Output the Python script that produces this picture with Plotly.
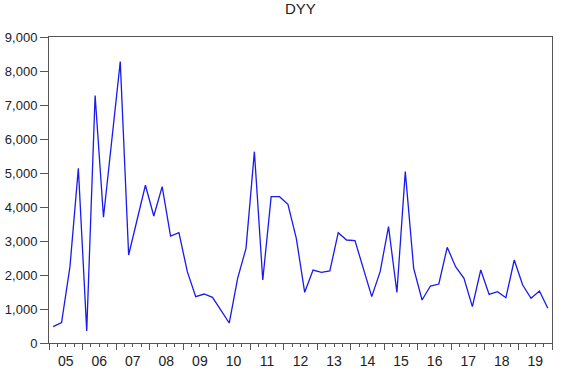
import plotly.graph_objects as go

years = ["05", "06", "07", "08", "09", "10", "11", "12", "13", "14", "15", "16", "17", "18", "19"]
start_year = 2005
values = [480, 600, 2245, 5137, 353, 7280, 3700, 6000, 8275, 2588,
          3618, 4640, 3735, 4598, 3147, 3245, 2098, 1363, 1441, 1343,
          970, 588, 1902, 2784, 5627, 1853, 4304, 4304, 4078, 3078,
          1490, 2147, 2078, 2118, 3245, 3029, 3010, 2147, 1363, 2098,
          3422, 1490, 5039, 2196, 1265, 1676, 1735, 2814, 2245, 1902,
          1069, 2147, 1431, 1510, 1333, 2441, 1706, 1314, 1529, 1020]

x = [start_year + (i + 0.5) / 4 for i in range(len(values))]
x_end = start_year + len(years)
label_pos = [start_year + k + 0.5 for k in range(len(years))]

fig = go.Figure()
fig.add_trace(go.Scatter(x=x, y=values, mode="lines",
                         line=dict(color="#1a1aee", width=1.3),
                         showlegend=False, hoverinfo="skip"))
# invisible trace for label axis
fig.add_trace(go.Scatter(x=[start_year, x_end], y=[0, 0], mode="lines",
                         line=dict(width=0), xaxis="x2", showlegend=False,
                         hoverinfo="skip"))

axis_color = "#555555"
font = "Liberation Sans, Arial, sans-serif"

fig.update_layout(
    width=561, height=379,
    margin=dict(l=49, r=9, t=37, b=36),
    paper_bgcolor="white", plot_bgcolor="white",
    font=dict(family=font, color="#222222"),
    xaxis=dict(range=[start_year, x_end], showgrid=False, zeroline=False,
               showline=True, linecolor=axis_color, linewidth=1, mirror=True,
               tickmode="linear", tick0=start_year, dtick=1,
               ticks="outside", ticklen=6, tickcolor=axis_color,
               showticklabels=False, automargin=False,
               minor=dict(dtick=0.25, tick0=start_year, ticks="outside",
                          ticklen=3, tickcolor=axis_color, showgrid=False)),
    xaxis2=dict(range=[start_year, x_end], overlaying="x", anchor="y",
                side="bottom", showgrid=False, zeroline=False, showline=False,
                tickmode="array", tickvals=label_pos, ticktext=years,
                ticks="", ticklabelstandoff=8, automargin=False,
                tickfont=dict(size=14, family=font, color="#222222")),
    yaxis=dict(range=[0, 9000], showgrid=False, zeroline=False,
               showline=True, linecolor=axis_color, linewidth=1, mirror=True,
               tickmode="linear", tick0=0, dtick=1000, tickformat=",d",
               ticks="outside", ticklen=8, tickcolor=axis_color,
               automargin=False,
               tickfont=dict(size=13, family=font, color="#222222")),
    annotations=[dict(text="DYY", xref="paper", yref="paper", x=0.5, y=1.06,
                      xanchor="center", yanchor="bottom", showarrow=False,
                      font=dict(size=15, family=font, color="#222222"))],
)

fig.write_html("out.html")
